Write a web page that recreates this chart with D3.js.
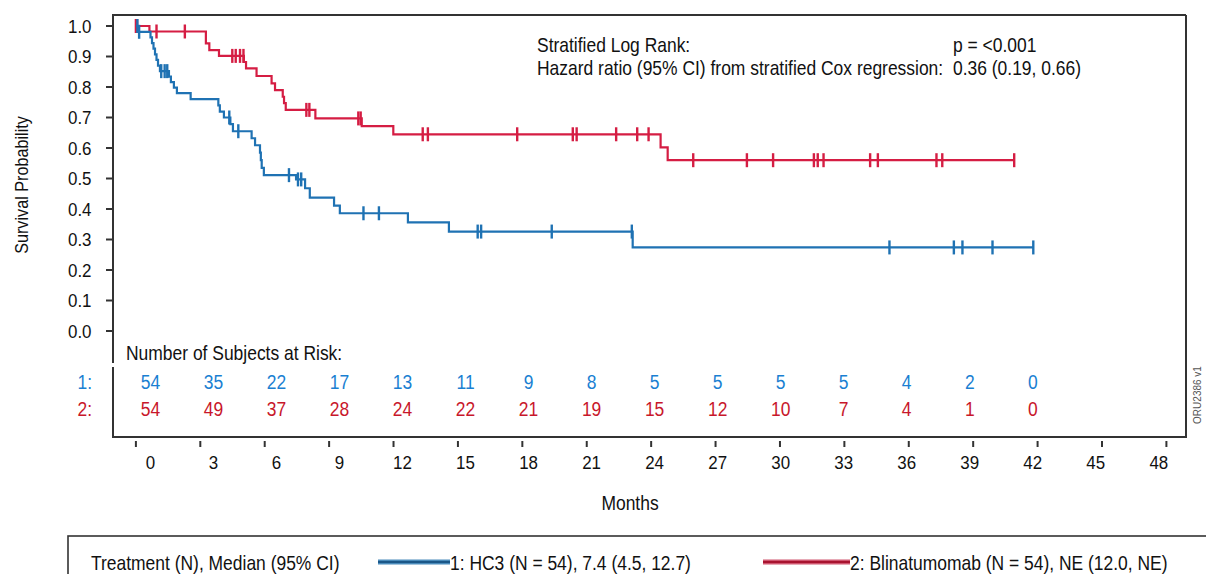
<!DOCTYPE html>
<html>
<head>
<meta charset="utf-8">
<script src="https://cdn.jsdelivr.net/npm/d3@7"></script>
<style>
html,body{margin:0;padding:0;background:#fff;}
svg{display:block;font-family:"Liberation Sans",Arial,sans-serif;}
</style>
</head>
<body>
<svg id="chart" width="1206" height="574"></svg>
<script>
// ---------------- DATA ----------------
// Kaplan-Meier steps: [month, survival after step]
const blueSteps = [
  [0,1.0],[0.14,0.981],[0.68,0.963],[0.75,0.944],[0.82,0.926],[0.89,0.907],[0.96,0.889],
  [1.03,0.870],[1.12,0.852],[1.54,0.834],[1.63,0.816],[1.77,0.798],[1.91,0.780],[2.55,0.760],
  [3.84,0.740],[3.91,0.719],[4.10,0.700],[4.40,0.678],[4.52,0.655],[5.39,0.632],[5.55,0.609],
  [5.78,0.585],[5.82,0.560],[5.86,0.535],[5.96,0.511],[7.46,0.497],[7.88,0.468],[8.10,0.437],
  [9.23,0.411],[9.50,0.386],[12.67,0.356],[14.58,0.326],[23.14,0.274]
];
const blueEnd = 41.8;
const blueCensor = [0.07,0.15,1.18,1.34,1.46,4.35,4.77,7.13,7.55,7.7,10.6,11.32,15.92,16.08,19.37,23.1,35.1,38.1,38.5,39.9,41.8];

const redSteps = [
  [0,1.0],[0.63,0.982],[3.26,0.943],[3.42,0.921],[3.87,0.902],[5.03,0.882],[5.13,0.861],
  [5.62,0.836],[6.32,0.812],[6.48,0.790],[6.84,0.768],[6.90,0.747],[6.98,0.725],[8.36,0.697],
  [10.52,0.672],[11.99,0.645],[24.44,0.602],[24.77,0.560]
];
const redEnd = 40.91;
const redCensor = [0.0,0.05,0.96,2.28,4.49,4.65,4.85,5.01,7.94,8.08,10.36,10.47,13.36,13.6,17.76,20.35,20.53,22.37,23.35,23.88,25.96,28.46,29.68,31.58,31.76,32.03,34.2,34.56,37.29,37.56,40.91];

const xTicks = [0,3,6,9,12,15,18,21,24,27,30,33,36,39,42,45,48];
const yTicks = [0,0.1,0.2,0.3,0.4,0.5,0.6,0.7,0.8,0.9,1.0];
const riskTimes = [0,3,6,9,12,15,18,21,24,27,30,33,36,39,42];
const risk1 = [54,35,22,17,13,11,9,8,5,5,5,5,4,2,0];
const risk2 = [54,49,37,28,24,22,21,19,15,12,10,7,4,1,0];

const legendTitle = "Treatment (N), Median (95% CI)";
const legend1 = "1: HC3 (N = 54), 7.4 (4.5, 12.7)";
const legend2 = "2: Blinatumomab (N = 54), NE (12.0, NE)";
const stat1 = ["Stratified Log Rank:", "p = <0.001"];
const stat2 = ["Hazard ratio (95% CI) from stratified Cox regression:", "0.36 (0.19, 0.66)"];

// ---------------- STYLE ----------------
const BLUE = "#1f72b3", RED = "#d51d43";
const BLUE_T = "#1a7fd2", RED_T = "#c8172b";
const INK = "#111", FRAME = "#333";

const svg = d3.select("#chart");
const x = d3.scaleLinear().domain([0,48]).range([135.9,1166.4]);
const xl = d3.scaleLinear().domain([0,48]).range([150.4,1158.8]);
const y = d3.scaleLinear().domain([0,1]).range([331,26]);

function T(parent, px, py, s, o={}) {
  const size = o.size || 19.4, sx = o.sx || 0.9;
  return parent.append("text")
    .attr("transform", `translate(${px},${py})${o.rot?` rotate(${o.rot})`:""} scale(${sx},1)`)
    .attr("text-anchor", o.anchor || "start")
    .attr("font-size", size)
    .attr("fill", o.fill || INK)
    .text(s);
}

// frame
const L=113, R=1186, TOP=15, BOT=437;
svg.append("line").attr("x1",L).attr("x2",R).attr("y1",TOP).attr("y2",TOP).attr("stroke",FRAME).attr("stroke-width",2);
svg.append("line").attr("x1",R).attr("x2",R).attr("y1",TOP).attr("y2",BOT).attr("stroke",FRAME).attr("stroke-width",2);
svg.append("line").attr("x1",L-1).attr("x2",R+1).attr("y1",BOT).attr("y2",BOT).attr("stroke",FRAME).attr("stroke-width",2);
svg.append("line").attr("x1",L).attr("x2",L).attr("y1",TOP-1).attr("y2",363).attr("stroke",FRAME).attr("stroke-width",2);
svg.append("line").attr("x1",L).attr("x2",L).attr("y1",367).attr("y2",BOT).attr("stroke",FRAME).attr("stroke-width",2);

// y axis ticks + labels
yTicks.forEach(v => {
  svg.append("line").attr("x1",106).attr("x2",L).attr("y1",y(v)).attr("y2",y(v)).attr("stroke",FRAME).attr("stroke-width",2);
  T(svg, 91.5, y(v)+6.5, d3.format(".1f")(v), {anchor:"end", size:18.8});
});
T(svg, 28, 185, "Survival Probability", {anchor:"middle", rot:-90, size:18});

// x axis ticks + labels
xTicks.forEach(v => {
  svg.append("line").attr("x1",x(v)).attr("x2",x(v)).attr("y1",441).attr("y2",447).attr("stroke",FRAME).attr("stroke-width",2);
  T(svg, xl(v), 469, String(v), {anchor:"middle", size:18.8});
});
T(svg, 630, 510, "Months", {anchor:"middle"});

// curves
function survAt(steps, t) {
  let s = steps[0][1];
  for (const d of steps) { if (d[0] <= t) s = d[1]; else break; }
  return s;
}
function drawCurve(steps, end, censor, color) {
  const pts = steps.concat([[end, steps[steps.length-1][1]]]);
  const line = d3.line().x(d=>x(d[0])).y(d=>y(d[1])).curve(d3.curveStepAfter);
  svg.append("path").attr("d", line(pts)).attr("fill","none").attr("stroke",color).attr("stroke-width",2.2);
  censor.forEach(t => {
    const s = survAt(steps, t);
    svg.append("line").attr("x1",x(t)).attr("x2",x(t)).attr("y1",y(s)-7).attr("y2",y(s)+7)
      .attr("stroke",color).attr("stroke-width",2.4);
  });
}
drawCurve(redSteps, redEnd, redCensor, RED);
drawCurve(blueSteps, blueEnd, blueCensor, BLUE);

// statistics annotation
T(svg, 537, 51.5, stat1[0]);
T(svg, 953, 51.5, stat1[1]);
T(svg, 537, 75, stat2[0]);
T(svg, 953, 75, stat2[1]);

// number at risk
T(svg, 126, 360, "Number of Subjects at Risk:");
T(svg, 92, 389, "1:", {anchor:"end", fill:BLUE_T});
T(svg, 92, 416, "2:", {anchor:"end", fill:RED_T});
riskTimes.forEach((t,i) => {
  T(svg, xl(t), 389, String(risk1[i]), {anchor:"middle", fill:BLUE_T});
  T(svg, xl(t), 416, String(risk2[i]), {anchor:"middle", fill:RED_T});
});

// side code
T(svg, 1201, 395, "ORU2386 v1", {anchor:"middle", rot:-90, size:10, fill:"#555", sx:1});

// legend
svg.append("rect").attr("x",68).attr("y",536).attr("width",1160).attr("height",60)
  .attr("fill","none").attr("stroke",FRAME).attr("stroke-width",1.6);
T(svg, 91, 570, legendTitle);
function legLine(x1, x2, c1, c2) {
  svg.append("line").attr("x1",x1).attr("x2",x2).attr("y1",562).attr("y2",562).attr("stroke",c1).attr("stroke-width",5);
  svg.append("line").attr("x1",x1).attr("x2",x2).attr("y1",562).attr("y2",562).attr("stroke",c2).attr("stroke-width",2);
}
legLine(378, 450, "#4a8bbb", "#1b5788");
T(svg, 450, 570, legend1);
legLine(763, 850, "#d0566f", "#a8142f");
T(svg, 850, 570, legend2);
</script>
</body>
</html>
